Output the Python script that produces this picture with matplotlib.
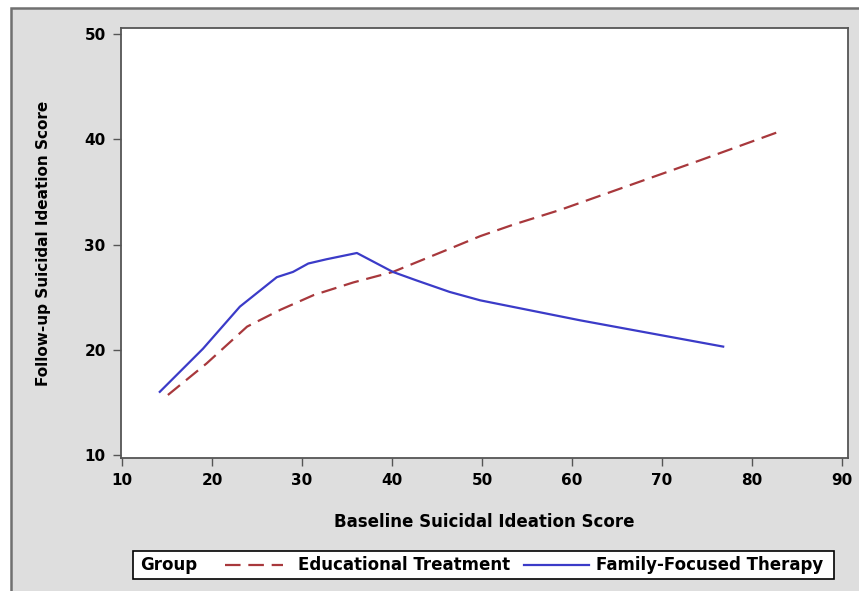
import matplotlib
matplotlib.use('Agg')
import matplotlib.pyplot as plt
from matplotlib.lines import Line2D
from matplotlib.patches import Rectangle

# Datos
edu_x = [15.1, 19.4, 23.9, 27.6, 31.3, 35.7, 40.1, 46.4, 49.8, 53.5, 58.7, 67.6, 74.2, 82.9]
edu_y = [15.7, 18.7, 22.2, 23.8, 25.2, 26.4, 27.4, 29.6, 30.8, 31.9, 33.3, 36.0, 38.0, 40.7]

fam_x = [14.2, 19.0, 23.1, 27.2, 29.0, 30.7, 32.7, 36.1, 40.1, 42.7, 46.4, 49.8, 60.9, 69.8, 76.8]
fam_y = [16.0, 20.1, 24.1, 26.9, 27.4, 28.2, 28.6, 29.2, 27.4, 26.6, 25.5, 24.7, 22.8, 21.4, 20.3]

x_ticks = [10, 20, 30, 40, 50, 60, 70, 80, 90]
y_ticks = [10, 20, 30, 40, 50]

RED = '#a8383c'
BLUE = '#3b3bc8'
FONT = ['Liberation Sans Narrow', 'DejaVu Sans']


def main() -> None:
    plt.rcParams['font.family'] = FONT
    plt.rcParams['font.weight'] = 'bold'

    W, H = 859, 591
    fig = plt.figure(figsize=(W / 100, H / 100), dpi=100, facecolor='white')

    # Marco gris exterior (detras de todo)
    frame = Rectangle((11 / W, -0.01), 1.05, 1.01 - 8 / H, transform=fig.transFigure,
                      facecolor='#dedede', edgecolor='#707070', linewidth=1.8, zorder=-10)
    fig.patches.append(frame)

    ax = fig.add_axes([121 / W, 1 - 458 / H, (848 - 121) / W, (458 - 28) / H])
    ax.set_facecolor('white')

    ax.plot(edu_x, edu_y, color=RED, linewidth=1.6, dashes=(7, 3.5))
    ax.plot(fam_x, fam_y, color=BLUE, linewidth=1.6)

    ax.set_xlim(9.89, 90.67)
    ax.set_ylim(9.71, 50.59)
    ax.set_xticks(x_ticks)
    ax.set_yticks(y_ticks)
    ax.tick_params(labelsize=11, length=6, width=1, color='#555555', pad=5)
    for s in ax.spines.values():
        s.set_color('#555555')
        s.set_linewidth(1.3)

    ax.set_xlabel('Baseline Suicidal Ideation Score', fontsize=12, fontweight='bold', labelpad=18)
    ax.set_ylabel('Follow-up Suicidal Ideation Score', fontsize=11, fontweight='bold', labelpad=24)

    # Leyenda con "Group"
    fig.patches.append(Rectangle((133 / W, 1 - 579 / H), (834 - 133) / W, 28 / H,
                                 transform=fig.transFigure, facecolor='white',
                                 edgecolor='black', linewidth=1.2))
    ty = 1 - 565 / H
    fig.text(140 / W, ty, 'Group', fontsize=12, fontweight='bold', va='center')
    fig.lines.append(Line2D([225 / W, 283 / W], [ty, ty], transform=fig.transFigure,
                            color=RED, linewidth=1.6, dashes=(7, 3.5)))
    fig.text(298 / W, ty, 'Educational Treatment', fontsize=12, fontweight='bold', va='center')
    fig.lines.append(Line2D([524 / W, 589 / W], [ty, ty], transform=fig.transFigure,
                            color=BLUE, linewidth=1.6))
    fig.text(596 / W, ty, 'Family-Focused Therapy', fontsize=12, fontweight='bold', va='center')

    fig.savefig('out.png', dpi=100, facecolor='white')


if __name__ == '__main__':
    main()
